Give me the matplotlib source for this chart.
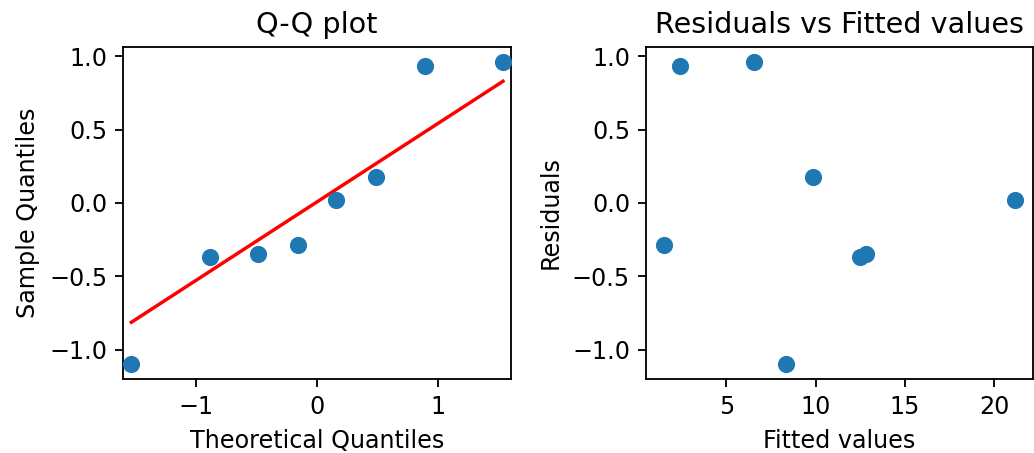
import matplotlib
matplotlib.use("Agg")
import matplotlib.pyplot as plt
import numpy as np

# Q-Q plot data
theo_q = [-1.534, -0.887, -0.489, -0.157, 0.157, 0.489, 0.887, 1.534]
sample_q = [-1.098, -0.368, -0.346, -0.286, 0.018, 0.177, 0.934, 0.961]
line_slope = 0.535
line_icpt = 0.008

# residuals vs fitted
fitted = [1.48, 2.39, 6.54, 8.35, 9.82, 12.49, 12.82, 21.16]
resid = [-0.286, 0.934, 0.961, -1.098, 0.177, -0.368, -0.346, 0.018]

plt.rcParams['font.size'] = 10.4

fig = plt.figure(figsize=(1034 / 165, 453 / 165), dpi=165)
ax1 = fig.add_axes([0.1193, 0.1627, 0.3749, 0.7342])
ax2 = fig.add_axes([0.6248, 0.1627, 0.3739, 0.7342])

ax1.scatter(theo_q, sample_q, s=42, c='#1f77b4', zorder=3)
lx = np.array([theo_q[0], theo_q[-1]])
ax1.plot(lx, line_slope * lx + line_icpt, c='r', lw=1.5)
ax1.set_xlim(-1.6, 1.6)
ax1.set_title("Q-Q plot")
ax1.set_xlabel("Theoretical Quantiles")
ax1.set_ylabel("Sample Quantiles")

ax2.scatter(fitted, resid, s=42, c='#1f77b4')
ax2.set_ylim(ax1.get_ylim())
ax2.set_title("Residuals vs Fitted values")
ax2.set_xlabel("Fitted values")
ax2.set_ylabel("Residuals")

plt.savefig('out.png', dpi=165)
